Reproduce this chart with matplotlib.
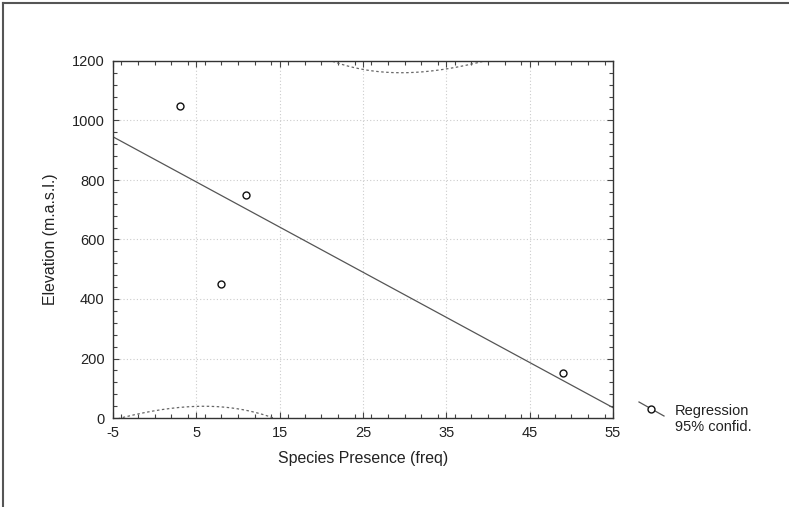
import numpy as np
import matplotlib
matplotlib.use("Agg")
import matplotlib.pyplot as plt
from matplotlib.lines import Line2D
from matplotlib.ticker import MultipleLocator

plt.rcParams['font.family'] = ['Liberation Sans', 'DejaVu Sans']
plt.rcParams['axes.unicode_minus'] = False

# Data
species_presence = np.array([3, 8, 11, 49])
elevation = np.array([1050, 450, 750, 150])
x_ticks = [-5, 5, 15, 25, 35, 45, 55]
y_ticks = [0, 200, 400, 600, 800, 1000, 1200]
# confidence band: half-width at the mean of x,
# and the x-distance over which it widens
band_half_at_mean = 644.0
band_spread = 20.9

W, H = 789, 507
fig = plt.figure(figsize=(W / 100, H / 100), dpi=100)
ax = fig.add_axes([113 / W, 1 - 418 / H, 500 / W, 357 / H])

# Regression and confidence band
slope, intercept = np.polyfit(species_presence, elevation, 1)
xx = np.linspace(-5, 55, 400)
yy = intercept + slope * xx
xm = species_presence.mean()
half = band_half_at_mean * np.sqrt(1 + ((xx - xm) / band_spread) ** 2)
upper = yy + half
lower = yy - half

line_col = '#555555'
ax.plot(xx, yy, color=line_col, lw=0.9)
ax.plot(xx, upper, color='#666666', lw=0.9, ls=(0, (2, 2)))
ax.plot(xx, lower, color='#666666', lw=0.9, ls=(0, (2, 2)))
ax.plot(species_presence, elevation, 'o', mfc='white', mec='#111111',
        mew=1.0, ms=5, zorder=5)

ax.set_xlim(-5, 55)
ax.set_ylim(0, 1200)
ax.set_xticks(x_ticks)
ax.set_yticks(y_ticks)
ax.xaxis.set_minor_locator(MultipleLocator(2))
ax.yaxis.set_minor_locator(MultipleLocator(40))
ax.tick_params(which='both', direction='in', top=True, right=True,
               colors='#444444', labelcolor='#222222', labelsize=10.5)
ax.tick_params(which='major', length=4, width=0.8, pad=6)
ax.tick_params(which='minor', length=3, width=0.8)
ax.grid(True, which='major', color='#cccccc', ls=(0, (1, 2)), lw=0.8)
for sp in ax.spines.values():
    sp.set_color('#333333')
    sp.set_linewidth(1.0)

ax.set_xlabel('Species Presence (freq)', fontsize=11.4, color='#222222', labelpad=8)
ax.set_ylabel('Elevation (m.a.s.l.)', fontsize=11.4, color='#222222', labelpad=10)

# Legend (manual)
def fx(px):
    return px / W

def fy(py):
    return 1 - py / H

fig.add_artist(Line2D([fx(639), fx(664)], [fy(402), fy(416)], color=line_col, lw=0.9))
fig.add_artist(Line2D([fx(651)], [fy(409)], marker='o', mfc='white', mec='#111111',
                      mew=1.0, ms=5, ls='none'))
fig.text(fx(675), fy(411), 'Regression', fontsize=10.5, color='#222222', va='center')
fig.text(fx(675), fy(427), '95% confid.', fontsize=10.5, color='#222222', va='center')

# Figure border (top and left)
fig.add_artist(Line2D([fx(3), fx(789)], [fy(3), fy(3)], color='#555555', lw=1.5))
fig.add_artist(Line2D([fx(3), fx(3)], [fy(3), fy(507)], color='#555555', lw=1.5))

fig.savefig('out.png', dpi=100, facecolor='white')
